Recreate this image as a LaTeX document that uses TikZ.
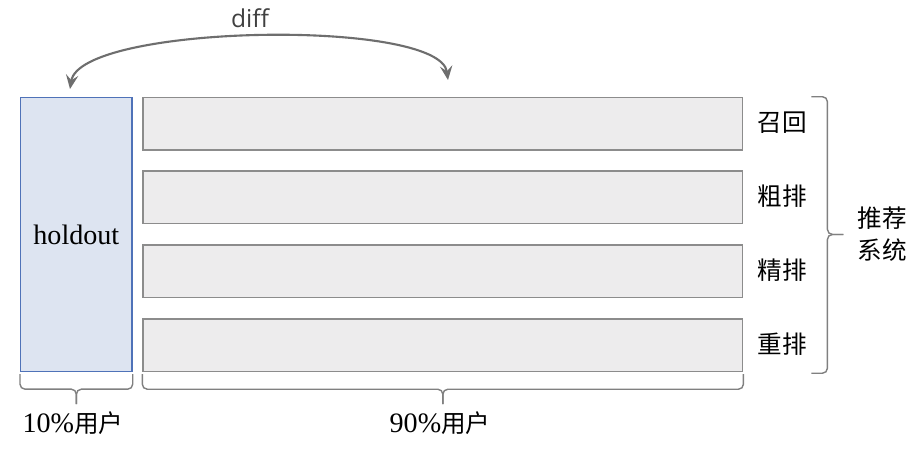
\documentclass[tikz,border=0pt]{standalone}
\usepackage{fontspec}
\setmainfont{Liberation Serif}
\newfontfamily\cjk{Noto Sans CJK SC}
\newfontfamily\diffont{Open Sans}
\usetikzlibrary{arrows.meta,calc}

\definecolor{holdfill}{HTML}{DDE4F1}
\definecolor{holddraw}{HTML}{4F72B8}
\definecolor{stagefill}{HTML}{EDECED}
\definecolor{stagedraw}{HTML}{8C8C8C}
\definecolor{bracecol}{HTML}{808080}
\definecolor{arrowcol}{HTML}{6E6E6E}

\tikzset{
  stagebox/.style={draw=stagedraw, fill=stagefill, line width=0.7pt, anchor=north west,
    minimum width=12cm, minimum height=1.054cm, inner sep=0pt},
  stagelabel/.style={font=\cjk\fontsize{14}{18}\selectfont, inner sep=0pt},
  userlabel/.style={font=\fontsize{16}{18}\selectfont, inner sep=0pt},
  groupbrace/.style={draw=bracecol, line width=0.8pt, rounded corners=0.1cm}
}

\begin{document}
\begin{tikzpicture}[x=0.02cm, y=-0.02cm]
  \useasboundingbox[fill=white] (0,0) rectangle (919,451);

  % holdout group
  \node[draw=holddraw, fill=holdfill, line width=0.7pt, anchor=north west,
    minimum width=2.23cm, minimum height=5.486cm, inner sep=0pt,
    font=\fontsize{16}{18}\selectfont] (holdout) at (20,96.7) {holdout};

  % stages of the recommender
  \begin{scope}[every node/.style={stagebox}]
    \node (recall)  at (142.3,96.7)  {};
    \node (coarse)  at (142.3,170.3) {};
    \node (fine)    at (142.3,244.3) {};
    \node (rerank)  at (142.3,318.3) {};
  \end{scope}

  \begin{scope}[every node/.style={stagelabel}]
    \node (recalltxt) at (782,123)   {召回};
    \node (coarsetxt) at (782,196.6) {粗排};
    \node (finetxt)   at (782,270.6) {精排};
    \node (reranktxt) at (782,344.6) {重排};
    \node[align=center] (systxt) at (882,234) {推荐\\系统};
  \end{scope}

  % braces
  \coordinate (sysmid) at ($(recall.north east)!0.5!(rerank.south east)$);
  \draw[groupbrace] ($(recall.north east)+(68,0)$) -- ++(16,0)
    -- ($(sysmid)+(84,0)$) -- ++(16,0);
  \draw[groupbrace] ($(rerank.south east)+(68,1)$) -- ++(16,0)
    -- ($(sysmid)+(84,0)$) -- ++(16,0);

  \draw[groupbrace] ($(holdout.south west)+(0,2)$) -- ++(0,15)
    -- ($(holdout.south)+(0,17)$) -- ++(0,15);
  \draw[groupbrace] ($(holdout.south east)+(0,2)$) -- ++(0,15)
    -- ($(holdout.south)+(0,17)$) -- ++(0,15);
  \draw[groupbrace] ($(rerank.south west)+(0,2)$) -- ++(0,15)
    -- ($(rerank.south)+(0,17)$) -- ++(0,15);
  \draw[groupbrace] ($(rerank.south east)+(0,2)$) -- ++(0,15)
    -- ($(rerank.south)+(0,17)$) -- ++(0,15);

  \node[userlabel] (holdusers) at (73,423) {10\%{\cjk\fontsize{14}{18}\selectfont 用户}};
  \node[userlabel] (mainusers) at (440,423) {90\%{\cjk\fontsize{14}{18}\selectfont 用户}};

  % diff arrow
  \coordinate (lefttip)  at (70,89);
  \coordinate (righttip) at (448,80);
  \draw[arrowcol, line width=1.2pt, {Stealth[length=8pt,width=7pt,inset=3pt]}-{Stealth[length=8pt,width=7pt,inset=3pt]}]
    (lefttip) .. controls (80,24) and (440,18) .. (righttip);
  \node[font=\diffont\fontsize{14}{16}\selectfont, text=black!75] (difftxt) at (250,18) {diff};
\end{tikzpicture}
\end{document}
